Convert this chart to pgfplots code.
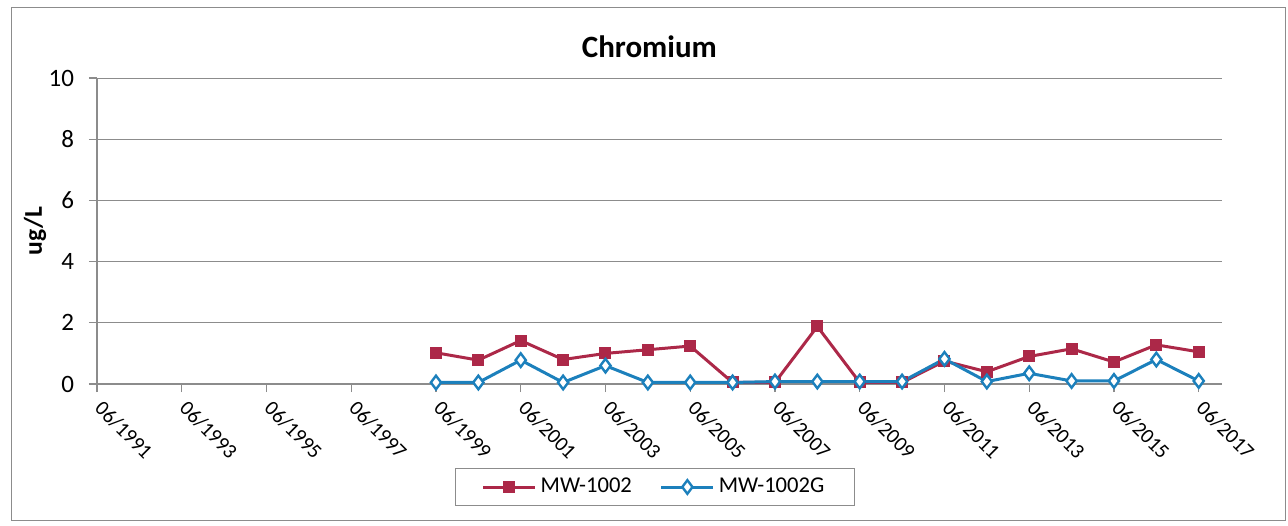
\documentclass[border=0pt]{standalone}
\usepackage{fontspec}
\setmainfont{Carlito}
\usepackage{pgfplots}
\pgfplotsset{compat=1.18}

\definecolor{mwred}{RGB}{172,40,72}
\definecolor{mwblue}{RGB}{28,128,188}
\definecolor{gridgray}{RGB}{140,140,140}

\begin{document}
\begin{tikzpicture}
\begin{axis}[
    at={(0,0)}, anchor=south west,
    scale only axis,
    width=562.5pt, height=153pt,
    xmin=1991, xmax=2017.55,
    ymin=0, ymax=10,
    ytick={0,2,...,10},
    xtick={1991,1993,...,2017},
    xticklabels={06/1991,06/1993,06/1995,06/1997,06/1999,06/2001,06/2003,06/2005,06/2007,06/2009,06/2011,06/2013,06/2015,06/2017},
    axis x line=bottom, axis y line=left,
    axis line style={draw=gridgray, line width=0.6pt, -},
    ymajorgrids=true,
    grid style={draw=gridgray, line width=0.5pt},
    tick style={draw=gridgray, line width=0.6pt},
    major tick length=4pt,
    tick align=outside,
    yticklabel style={font=\fontsize{12.5}{15}\selectfont, xshift=-4pt},
    xticklabel style={font=\fontsize{10.4}{12}\selectfont, inner sep=1pt, anchor=north west, xshift=3.5pt, yshift=-2pt, rotate=-45},
    /pgf/number format/assume math mode=true,
    title={Chromium},
    title style={font=\bfseries\fontsize{15.5}{18}\selectfont, at={(0.491,1)}, anchor=center, yshift=9.5pt},
    ylabel={ug/L},
    ylabel style={font=\bfseries\fontsize{12.8}{15}\selectfont, at={(axis description cs:-0.0551,0.5)}, anchor=center, rotate=0},
    legend columns=2,
    legend style={at={(0.496,0)}, anchor=center, yshift=-51.5pt, draw=gridgray, line width=0.5pt,
        font=\fontsize{11.3}{13}\selectfont, inner xsep=13pt, inner ysep=3pt,
        /tikz/every even column/.append style={column sep=12pt}},
    legend image code/.code={\draw[mark repeat=2, mark phase=2, #1] plot coordinates {(0pt,0pt) (13pt,0pt) (26pt,0pt)};},
]
\addplot[color=mwred, line width=1.5pt, mark=square*, mark size=2.7pt, mark options={fill=mwred, line width=0.6pt}]
coordinates {
(1999,1.02)(2000,0.78)(2001,1.42)(2002,0.80)(2003,1.00)(2004,1.12)(2005,1.24)
(2006,0.05)(2007,0.05)(2008,1.88)(2009,0.05)(2010,0.05)(2011,0.75)(2012,0.40)
(2013,0.90)(2014,1.15)(2015,0.72)(2016,1.28)(2017,1.05)
};
\addlegendentry{MW-1002}
\addplot[color=mwblue, line width=1.5pt, mark=diamond*, mark size=3.4pt, mark options={fill=white, line width=1.2pt}]
coordinates {
(1999,0.05)(2000,0.05)(2001,0.78)(2002,0.05)(2003,0.60)(2004,0.05)(2005,0.05)
(2006,0.05)(2007,0.08)(2008,0.08)(2009,0.08)(2010,0.08)(2011,0.82)(2012,0.08)
(2013,0.35)(2014,0.10)(2015,0.10)(2016,0.80)(2017,0.10)
};
\addlegendentry{MW-1002G}
\end{axis}
\draw[gridgray, line width=0.5pt] (-42.5pt,-68pt) rectangle (594pt,188pt);
\pgfresetboundingbox
\path (-48.5pt,-70.5pt) rectangle (595.5pt,192pt);
\end{tikzpicture}
\end{document}
